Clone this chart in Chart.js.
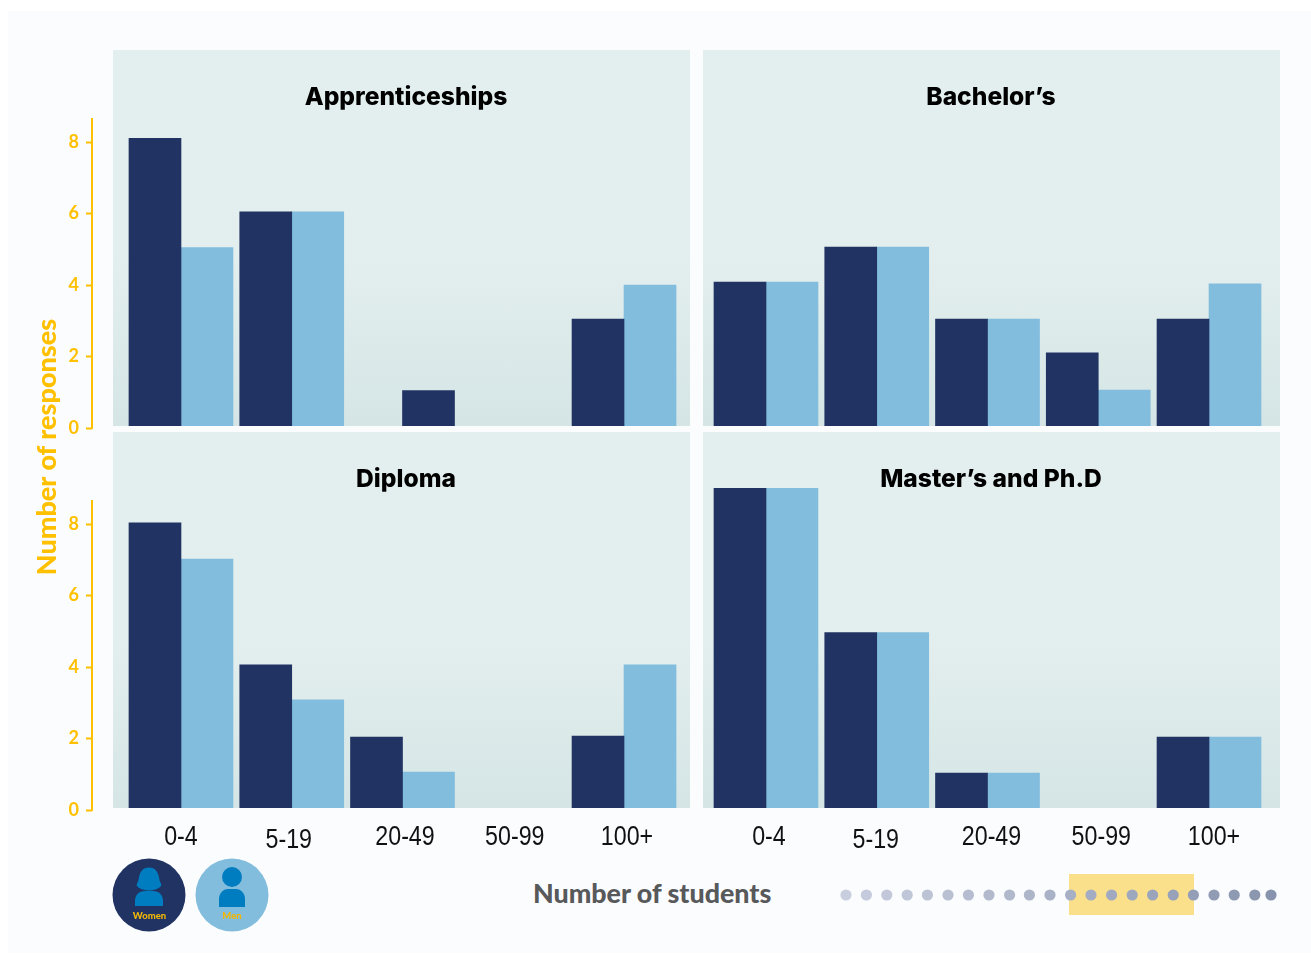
<!DOCTYPE html>
<html><head><meta charset="utf-8">
<script src="https://cdn.jsdelivr.net/npm/chart.js@4"></script>
<style>
html,body{margin:0;padding:0;background:#fff;}
#stage{position:relative;width:1311px;height:954px;overflow:hidden;background:#fff;}
#sheet{position:absolute;left:8px;top:11px;width:1303px;height:942px;background:#fbfcfe;}
.panel{position:absolute;width:577px;height:376px;background:linear-gradient(180deg,#e3efee 0%,#e3efee 55%,#d5e5e5 100%);}
canvas{position:absolute;}
.txt{position:absolute;white-space:nowrap;font-family:Lato,sans-serif;font-weight:900;}
#ytitle{left:45px;top:447px;transform:translate(-50%,-50%) rotate(-90deg);color:#ffc000;font-size:27px;}
#xtitle{left:533px;top:893px;transform:translateY(-50%);color:#58595b;font-size:26.8px;}
#band{position:absolute;left:1069px;top:874px;width:125px;height:41px;background:#fbe08b;}
#deco{position:absolute;left:0;top:0;}
</style></head><body>
<div id="stage">
<div id="sheet"></div>
<div class="panel" style="left:113px;top:50px"></div>
<div class="panel" style="left:703px;top:50px"></div>
<div class="panel" style="left:113px;top:432px"></div>
<div class="panel" style="left:703px;top:432px"></div>
<canvas id="c0" style="left:0;top:50px"></canvas>
<canvas id="c2" style="left:0;top:432px"></canvas>
<canvas id="c1" style="left:703px;top:50px"></canvas>
<canvas id="c3" style="left:703px;top:432px"></canvas>
<div class="txt" id="ytitle">Number of responses</div>
<div class="txt" id="xtitle">Number of students</div>
<div id="band"></div>
<svg id="deco" width="1311" height="954" xmlns="http://www.w3.org/2000/svg">
  <g id="dots"></g>
  <circle cx="149" cy="895" r="36.5" fill="#203362"/>
  <circle cx="232" cy="895" r="36.5" fill="#82bddd"/>
  <g fill="#007dc1">
    <path d="M149 867.5c-6 0-9 4-10 10-.6 4-2 6-2.500 7.500 1 3 7 5.500 12.500 5.500s11.500-2.500 12.500-5.500c-.5-1.500-1.900-3.500-2.500-7.500-1-6-4-10-10-10z"/>
    <path d="M135 906v-5c0-6 4-10 10-10h8c6 0 10 4 10 10v5z"/>
    <circle cx="232" cy="877" r="10"/>
    <path d="M219 907v-8c0-5.500 4-10 9-10h8c5 0 9 4.500 9 10v8z"/>
  </g>
  <g font-family="Lato,sans-serif" font-weight="900" font-size="9.500" fill="#f2b705" text-anchor="middle">
    <text x="149.500" y="919">Women</text>
    <text x="232" y="919">Men</text>
  </g>
</svg>
</div>
<script>
const categories = ['0-4','5-19','20-49','50-99','100+'];
const panelTitles = ['Apprenticeships','Bachelor\u2019s','Diploma','Master\u2019s and Ph.D'];
const yTicks = [0,2,4,6,8];
const seriesNames = ['Women','Men'];
const appWomen = [8.1,6.05,0,0,3.05];
const appMen   = [5.05,6.05,1.05,0,4];
const bacWomen = [4.08,5.06,3.05,2.1,3.05];
const bacMen   = [4.08,5.06,3.05,1.06,4.03];
const dipWomen = [8.03,4.06,2.04,0,2.07];
const dipMen   = [7.02,3.08,1.06,0,4.06];
const masWomen = [9,4.96,1.03,0,2.04];
const masMen   = [9,4.96,1.03,0,2.04];
const colWomen='#203362', colMen='#82bddd', gold='#ffc000';
const labelDx = [[0,-3,2.5,1.5,3],[3,-1,4,3,5]];
const labelDy = [0,3,0,0,0];
const YMAX = 337/35.75, AXIS_TOP = 8.67, AXIS_SHIFT = 33.6, XSQUEEZE = 0.86;
const TITLE_SHIFT_LEFT = 66.3, TITLE_SHIFT_RIGHT = 3.5;

const shiftAxis = {id:'shiftAxis',
  afterLayout(c){const y=c.scales.y, left=y.options.display, d=left?TITLE_SHIFT_LEFT:TITLE_SHIFT_RIGHT;
    c.titleBlock.left+=d; c.titleBlock.right+=d;
    if(left){y.left-=AXIS_SHIFT;y.right-=AXIS_SHIFT;}},
  afterDraw(c){const y=c.scales.y; if(!y.options.display)return;
    const ctx=c.ctx; ctx.save(); ctx.strokeStyle=gold; ctx.lineWidth=2; ctx.beginPath();
    ctx.moveTo(y.right,y.getPixelForValue(AXIS_TOP)); ctx.lineTo(y.right,y.getPixelForValue(0)+1); ctx.stroke(); ctx.restore();}
};

function make(id,idx,w,h,women,men,menColors,left,bottomAxis){
  const cv=document.getElementById(id); cv.width=w; cv.height=h;
  const clip={left:false,top:false,right:false,bottom:-2};
  new Chart(cv,{type:'bar',
    data:{labels:categories,datasets:[
      {label:seriesNames[0],data:women,backgroundColor:colWomen,barThickness:52,clip},
      {label:seriesNames[1],data:men,backgroundColor:menColors||colMen,barThickness:52,clip}]},
    plugins:[shiftAxis],
    options:{responsive:false,animation:false,devicePixelRatio:1,
      layout:{autoPadding:false,padding:{left:left?0:7.6,right:left?10.6:15.6,top:0,bottom:0}},
      plugins:{legend:{display:false},tooltip:{enabled:false},
        title:{display:true,text:panelTitles[idx],color:'#000',align:'center',
          font:{family:'Inter,sans-serif',size:24.6,weight:'800',lineHeight:1},padding:{top:35.4,bottom:-19}}},
      scales:{
        x:{display:true,grid:{display:false},border:{display:false},
          ticks:{display:bottomAxis,color:'#111',padding:3,maxRotation:0,autoSkip:false,
            font:{family:'"Liberation Sans",sans-serif',size:27}},
          afterFit(s){s.height=bottomAxis?50:12;},
          afterUpdate(s){
            if(s.__wrapped)return; s.__wrapped=true;
            const orig=s._computeLabelItems, draw=s.drawLabels;
            s._computeLabelArea=function(){return undefined;};
            s._computeLabelItems=function(a){const items=orig.call(this,a);
              items.forEach((it,i)=>{const t=it.options.translation;
                t[0]=(t[0]+labelDx[left?0:1][i])/XSQUEEZE;t[1]+=labelDy[i];});return items;};
            s.drawLabels=function(a){const ctx=this.ctx;ctx.save();ctx.scale(XSQUEEZE,1);draw.call(this,a);ctx.restore();};
          }},
        y:{display:left,min:0,max:YMAX,afterBuildTicks(s){s.ticks=yTicks.map(v=>({value:v}));},
          afterFit(s){if(left)s.width=125.6; s.paddingTop=0; s.paddingBottom=0;},
          grid:{drawOnChartArea:false,drawTicks:true,tickLength:6,tickColor:gold,tickWidth:2},border:{display:false},
          ticks:{color:gold,padding:7,font:{family:'Lato,sans-serif',size:18,weight:'700'}}}
      }}});
}
make('c0',0,690,390,appWomen,appMen,[colMen,colMen,colWomen,colMen,colMen],true,false);
make('c1',1,577,390,bacWomen,bacMen,null,false,false);
make('c2',2,690,428,dipWomen,dipMen,null,true,true);
make('c3',3,577,428,masWomen,masMen,null,false,true);

const dotsG=document.getElementById('dots');
const dotXs=[846,866.4,886.8,907.2,927.4,948,968.4,989,1009.6,1029.4,1050,1070.6,1091,1111.6,1132.2,1152.6,1173.2,1193.4,1214,1234.2,1254.8,1271];
const mix=(a,b,t)=>Math.round(a+(b-a)*t);
dotXs.forEach((x,i)=>{const c=document.createElementNS('http://www.w3.org/2000/svg','circle'),t=i/21;
  c.setAttribute('cx',x);c.setAttribute('cy',895);c.setAttribute('r',5.6);
  c.setAttribute('fill','rgb('+mix(200,136,t)+','+mix(206,147,t)+','+mix(222,173,t)+')');dotsG.appendChild(c);});
</script>
</body></html>
